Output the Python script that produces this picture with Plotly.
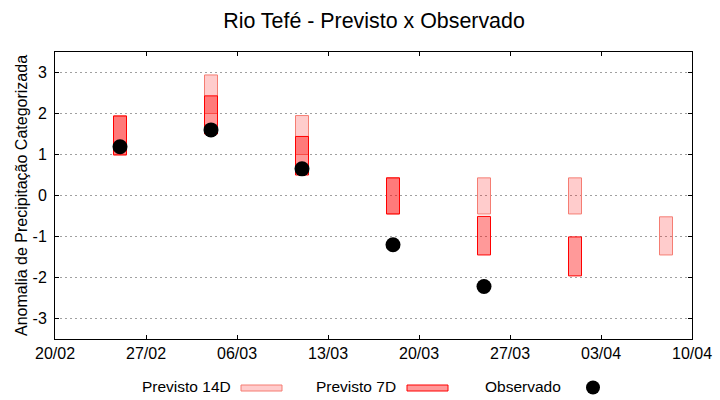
import plotly.graph_objects as go

# ---- data ----
dates = ["2023-02-25", "2023-03-04", "2023-03-11", "2023-03-18",
         "2023-03-25", "2023-04-01", "2023-04-08"]
p14_low = [0.99, 2.00, 1.00, -0.45, -0.45, -0.45, -1.45]
p14_high = [1.94, 2.94, 1.95, 0.43, 0.43, 0.43, -0.52]
p7_dates = dates[:6]
p7_low = [0.99, 1.50, 0.50, -0.45, -1.45, -1.96]
p7_high = [1.94, 2.43, 1.44, 0.43, -0.51, -1.01]
obs_dates = dates[:5]
obs = [1.19, 1.60, 0.65, -1.20, -2.22]

tick_dates = ["2023-02-20", "2023-02-27", "2023-03-06", "2023-03-13",
              "2023-03-20", "2023-03-27", "2023-04-03", "2023-04-10"]
tick_labels = ["20/02", "27/02", "06/03", "13/03", "20/03", "27/03", "03/04", "10/04"]
y_ticks = [-3, -2, -1, 0, 1, 2, 3]
y_labels = ["-3", "-2", "-1", "0", "1", "2", "3"]

DAY_MS = 86400000
FONT = "Liberation Sans, Arial, sans-serif"
C14_FILL, C14_LINE = "rgba(255,0,0,0.2)", "rgb(245,125,115)"
C7_FILL, C7_LINE = "rgba(255,0,0,0.4)", "rgb(255,0,0)"

W, H = 720, 400
L, R, T, B = 55, 28, 52, 61

fig = go.Figure()
fig.add_trace(go.Bar(
    x=dates, y=[h - l for h, l in zip(p14_high, p14_low)], base=p14_low,
    width=DAY_MS, marker=dict(color=C14_FILL, line=dict(color=C14_LINE, width=1)),
    name="Previsto 14D", showlegend=False))
fig.add_trace(go.Bar(
    x=p7_dates, y=[h - l for h, l in zip(p7_high, p7_low)], base=p7_low,
    width=DAY_MS, marker=dict(color=C7_FILL, line=dict(color=C7_LINE, width=1)),
    name="Previsto 7D", showlegend=False))
fig.add_trace(go.Scatter(
    x=obs_dates, y=obs, mode="markers",
    marker=dict(color="black", size=15), name="Observado", showlegend=False))

def px_x(p):
    return (p - L) / (W - L - R)

def px_y(p):
    return (H - B - p) / (H - T - B)

# manual legend (gnuplot style: text then sample)
legend_items = [("Previsto 14D", 233, 241, 282, "box14"),
                ("Previsto 7D", 398, 407, 448, "box7"),
                ("Observado", 563, 593, 593, "dot")]
for text, tx, sx0, sx1, kind in legend_items:
    fig.add_annotation(text=text, xref="paper", yref="paper", x=px_x(tx), y=px_y(386.5),
                       xanchor="right", yanchor="middle", showarrow=False,
                       font=dict(family=FONT, size=15.5, color="black"))
    if kind == "box14":
        fig.add_shape(type="rect", xref="paper", yref="paper", x0=px_x(sx0), x1=px_x(sx1),
                      y0=px_y(391), y1=px_y(385), fillcolor=C14_FILL,
                      line=dict(color=C14_LINE, width=1))
    elif kind == "box7":
        fig.add_shape(type="rect", xref="paper", yref="paper", x0=px_x(sx0), x1=px_x(sx1),
                      y0=px_y(391), y1=px_y(385), fillcolor=C7_FILL,
                      line=dict(color=C7_LINE, width=1))
    else:
        fig.add_shape(type="circle", xref="paper", yref="paper", x0=px_x(sx0 - 7), x1=px_x(sx0 + 7),
                      y0=px_y(387.5 + 7), y1=px_y(387.5 - 7), fillcolor="black",
                      line=dict(color="black", width=0))

fig.update_layout(
    width=W, height=H, margin=dict(l=L, r=R, t=T, b=B, autoexpand=False),
    paper_bgcolor="white", plot_bgcolor="white", barmode="overlay",
    font=dict(family=FONT, size=16, color="black"),
    title=dict(text="Rio Tefé - Previsto x Observado", x=374 / W, xanchor="center",
               y=1 - 21 / H, yanchor="middle", font=dict(size=21.4, family=FONT, color="black")),
    showlegend=False,
)
fig.update_xaxes(
    type="date", range=[tick_dates[0], tick_dates[-1]],
    tickvals=tick_dates, ticktext=tick_labels,
    showgrid=False, zeroline=False, showline=True, linecolor="black", linewidth=1,
    mirror="ticks", ticks="inside", ticklen=4, tickcolor="black",
    tickfont=dict(size=16, family=FONT, color="black"),
)
fig.update_yaxes(
    range=[-3.5, 3.5], tickvals=y_ticks, ticktext=y_labels,
    showgrid=True, gridcolor="#a0a0a0", gridwidth=1, griddash="2px,3px",
    zeroline=False, showline=True, linecolor="black", linewidth=1,
    mirror="ticks", ticks="inside", ticklen=4, tickcolor="black", ticklabelstandoff=4,
    tickfont=dict(size=16, family=FONT, color="black"),
    title=dict(text="Anomalia de Precipitação Categorizada", standoff=0,
               font=dict(size=16, family=FONT, color="black")),
)

fig.write_html("out.html", config={"displayModeBar": False},
               post_script="document.body.style.margin='0';document.body.style.overflow='hidden';")
